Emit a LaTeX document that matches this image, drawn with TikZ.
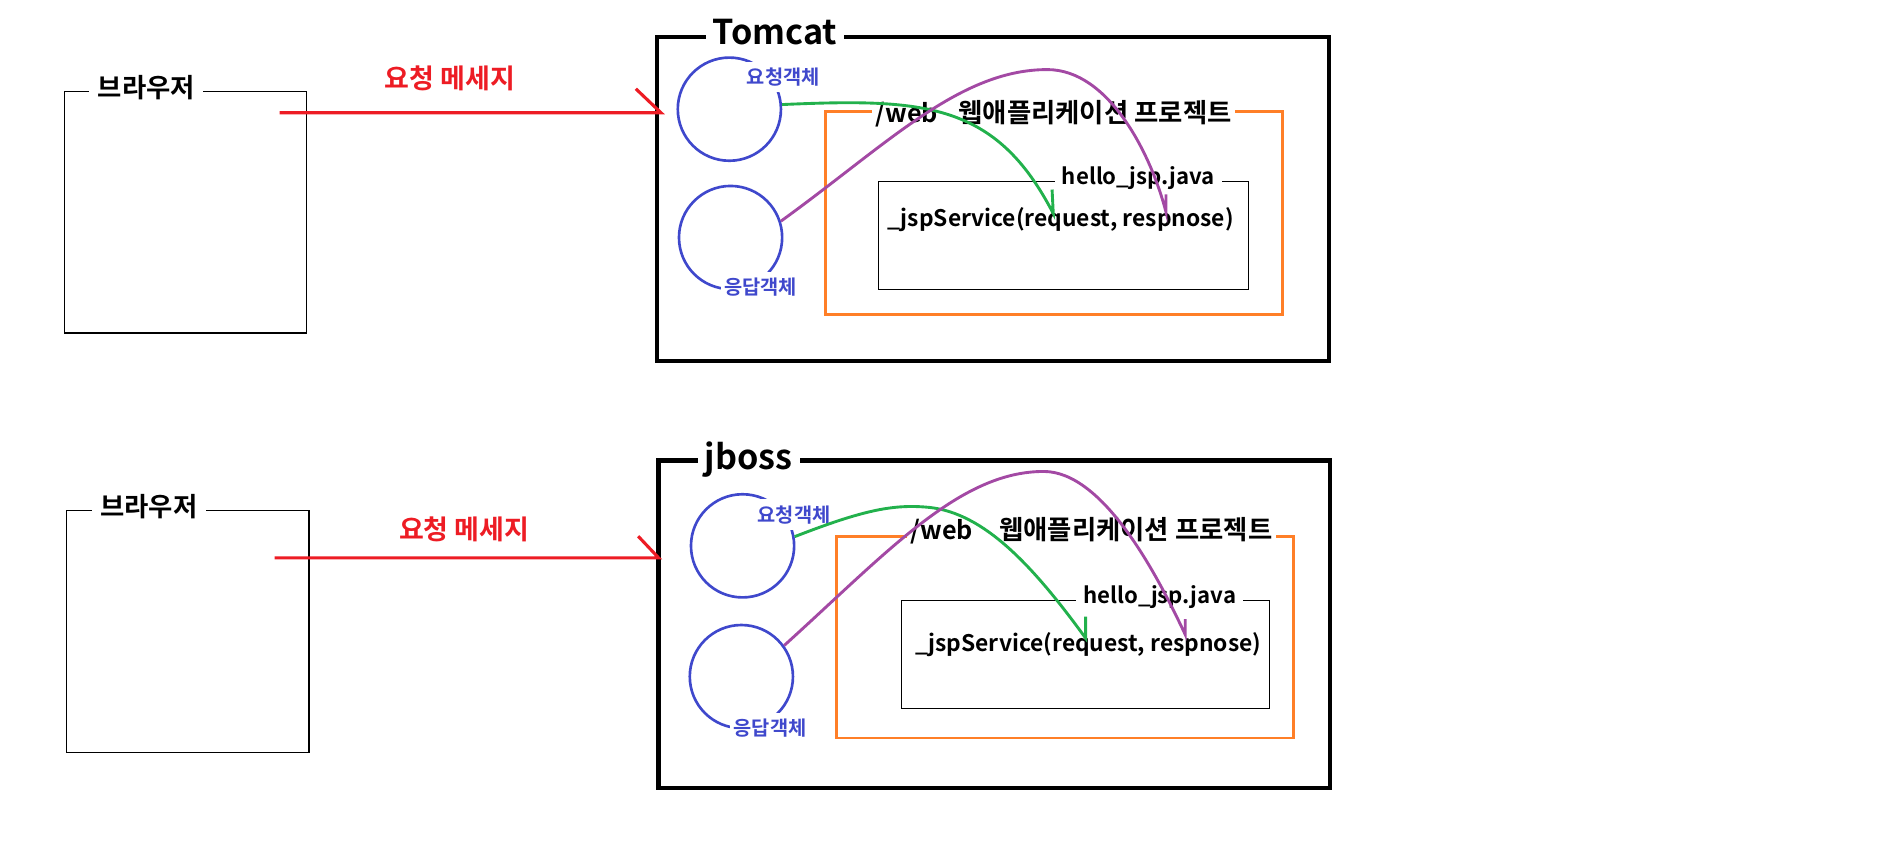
\documentclass[tikz,border=0pt]{standalone}
\usepackage{fontspec}
\setmainfont{Noto Sans CJK KR}[BoldFont={Noto Sans CJK KR Bold}]
\definecolor{pred}{RGB}{237,28,36}
\definecolor{pblue}{RGB}{63,72,204}
\definecolor{pgreen}{RGB}{34,177,76}
\definecolor{ppurple}{RGB}{163,73,164}
\definecolor{porange}{RGB}{255,127,39}
\newcommand{\hangulbig}{\fontsize{22pt}{26pt}\selectfont}
\begin{document}
\begin{tikzpicture}[x=1pt,y=-1pt,
  box/.style={draw=black,line width=1pt,anchor=north west,inner sep=0pt},
  server/.style={draw=black,line width=3.6pt,anchor=north west,inner sep=0pt},
  webapp/.style={draw=porange,line width=2.4pt,anchor=north west,inner sep=0pt},
  obj/.style={circle,draw=pblue,line width=2.2pt,minimum size=86pt,inner sep=0pt},
  lbl/.style={fill=white,inner xsep=7pt,inner ysep=2pt,font=\bfseries\fontsize{22pt}{26pt}\selectfont},
  srvlbl/.style={fill=white,inner xsep=6pt,inner ysep=1pt,anchor=base,font=\bfseries\fontsize{28.5pt}{34pt}\selectfont},
  weblbl/.style={fill=white,inner xsep=3pt,inner ysep=2pt,anchor=base west,font=\bfseries\fontsize{21pt}{25pt}\selectfont},
  javalbl/.style={fill=white,inner xsep=6pt,inner ysep=2pt,anchor=base west,font=\bfseries\fontsize{18.5pt}{22pt}\selectfont},
  code/.style={inner sep=0pt,anchor=base west,font=\bfseries\fontsize{19pt}{23pt}\selectfont},
  objlbl/.style={fill=white,text=pblue,inner xsep=3pt,inner ysep=5pt,font=\bfseries\fontsize{16.5pt}{19pt}\selectfont},
  msg/.style={text=pred,font=\bfseries\fontsize{22.5pt}{26pt}\selectfont},
  reqline/.style={draw=pred,line width=2.6pt},
  inline/.style={draw=pgreen,line width=2.4pt},
  outline/.style={draw=ppurple,line width=2.4pt}]
\useasboundingbox (0,0) rectangle (1568,718);

% ---------------- top: Tomcat ----------------
\node[box,minimum width=202pt,minimum height=201pt] (br1) at (53,76) {};
\node[lbl] (br1l) at (122,73) {브라우저};
\node[server,minimum width=560pt,minimum height=270pt] (tc) at (546,29) {};
\node[srvlbl] (tcl) at (646,37.5) {Tomcat};
\node[webapp,minimum width=381pt,minimum height=169pt] (wa1) at (687,92) {};
\node[weblbl] (wa1l) at (727,102) {/web\hspace{17pt}{\hangulbig 웹애플리케이션 프로젝트}};
\node[box,minimum width=308pt,minimum height=90pt] (jv1) at (732,151) {};
\node[javalbl] (jv1l) at (879,154) {hello\_jsp.java};
\node[code] (sv1) at (740,189) {\_jspService(request, respnose)};
\node[obj] (rq1) at (608,91) {};
\node[objlbl] (rq1l) at (653,64) {요청객체};
\node[obj] (rs1) at (609,198) {};
\node[objlbl] (rs1l) at (634,239) {응답객체};
\node[msg] (m1) at (375,65) {요청 메세지};

\coordinate (r1a) at (233,94);
\coordinate (r1b) at (551,94);
\draw[reqline] (r1a) -- (r1b) -- ++(-21,-20);

\coordinate (g1) at (878,178);
\draw[inline] (rq1.5) .. controls (770,82) and (830,85) .. (g1) -- ++(-1,-20);
\coordinate (p1) at (972,177);
\draw[outline] (rs1.18) .. controls (740,120) and (800,58) .. (873,58)
  .. controls (925,58) and (960,130) .. (p1) -- ++(0,-15);

% ---------------- bottom: jboss ----------------
\node[box,minimum width=202pt,minimum height=202pt] (br2) at (55,425) {};
\node[lbl] (br2l) at (124,422) {브라우저};
\node[server,minimum width=560pt,minimum height=273pt] (jb) at (547,382) {};
\node[srvlbl] (jbl) at (624,391) {jboss};
\node[webapp,minimum width=381pt,minimum height=168pt] (wa2) at (696,446) {};
\node[weblbl] (wa2l) at (756,450) {/web\hspace{22pt}{\hangulbig 웹애플리케이션 프로젝트}\hspace{6pt}};
\node[box,minimum width=307pt,minimum height=90pt] (jv2) at (751,500) {};
\node[javalbl] (jv2l) at (897,503) {hello\_jsp.java};
\node[code] (sv2) at (763,543) {\_jspService(request, respnose)};
\node[obj] (rq2) at (619,455) {};
\node[objlbl] (rq2l) at (662,429) {요청객체};
\node[obj] (rs2) at (618,564) {};
\node[objlbl] (rs2l) at (642,607) {응답객체};
\node[msg] (m2) at (387,441) {요청 메세지};

\coordinate (r2a) at (229,465);
\coordinate (r2b) at (549,465);
\draw[reqline] (r2a) -- (r2b) -- ++(-17,-18);

\coordinate (g2) at (905,532);
\draw[inline] (rq2.10) .. controls (720,425) and (745,420) .. (775,423)
  .. controls (820,428) and (860,470) .. (g2) -- ++(0,-18);
\coordinate (p2) at (988,529);
\draw[outline] (rs2.36) .. controls (740,460) and (800,393) .. (870,393)
  .. controls (920,393) and (965,480) .. (p2) -- ++(0,-13);
\end{tikzpicture}
\end{document}
